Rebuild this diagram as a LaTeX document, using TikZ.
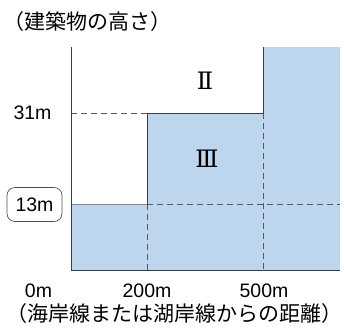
\documentclass[tikz,border=0pt]{standalone}
\usepackage{fontspec}
\setmainfont{Noto Sans CJK JP}
\newfontfamily\numfont{Liberation Sans}
\newfontfamily\romanfont{DejaVu Serif}
\definecolor{zonefill}{RGB}{189,214,237}
\definecolor{lineclr}{RGB}{55,60,75}

\begin{document}
\begin{tikzpicture}[x=1pt, y=-1pt, every node/.style={inner sep=0pt, font=\numfont\fontsize{19.5}{19.5}\selectfont},
		solidline/.style={draw=lineclr, line width=0.9pt}, guideline/.style={draw=lineclr!85, line width=0.8pt, dash pattern=on 6pt off 4pt}]
			\useasboundingbox (0,0) rectangle (345,333);
			\coordinate (top) at (71,47);
			\coordinate (o) at (71,270);
			\coordinate (end) at (340,270);
			\coordinate (a) at (71,204);
			\coordinate (b) at (147,204);
			\coordinate (c) at (147,113);
			\coordinate (d) at (263,113);
			\coordinate (e) at (263,47);
			\coordinate (f) at (71,113);
			\coordinate (g) at (147,270);
			\coordinate (h) at (340,204);
			\coordinate (k) at (263,270);
			
			\fill[zonefill] (a) rectangle (g);
			\fill[zonefill] (c) rectangle (k);
			\fill[zonefill] (e) rectangle (end);
			
			\path[guideline] (f) -- (c);
			\path[guideline] (b) -- (g);
			\path[guideline] (b) -- (h);
			\path[guideline] (d) -- (k);
			\path[draw=lineclr!60, line width=0.7pt] (a) -- (b);
			\path[solidline] (top) -- (o) -- (end);
			\path[solidline] (b) -- (c) -- (d) -- (e);
			
			\node[font=\fontsize{21}{21}\selectfont] (title) at (87,22) {（建築物の高さ）};
			\node[font=\fontsize{21}{21}\selectfont] (xtitle) at (174,314) {（海岸線または湖岸線からの距離）};
			\node (h31) at (32.5,113) {31m};
			\node[draw=lineclr!90, line width=0.7pt, rounded corners=8pt, minimum width=55pt, minimum height=34pt] (h13) at (34.5,204.5) {13m};
			\node (d0) at (38.5,291) {0m};
			\node (d200) at (147,291) {200m};
			\node (d500) at (264,291) {500m};
			\node[font=\romanfont\fontsize{24}{24}\selectfont] (zoneII) at (205,81) {Ⅱ};
			\node[font=\romanfont\fontsize{24}{24}\selectfont] (zoneIII) at (207,159) {Ⅲ};
\end{tikzpicture}
\end{document}
